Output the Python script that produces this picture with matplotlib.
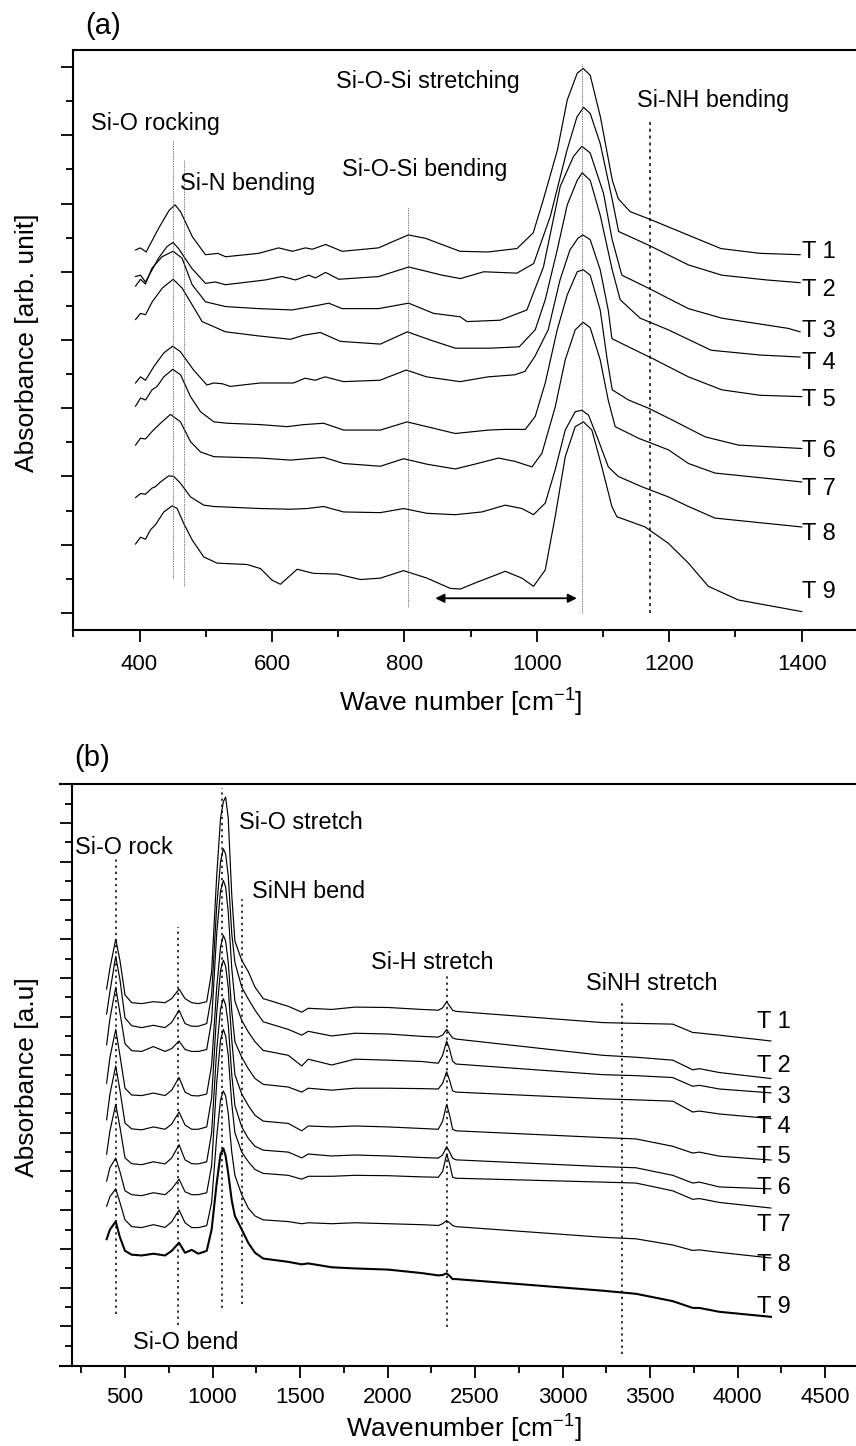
import matplotlib
matplotlib.use("Agg")
import matplotlib.pyplot as plt
from matplotlib.ticker import FixedLocator, MultipleLocator

plt.rcParams['font.family'] = ['Liberation Sans', 'DejaVu Sans']
plt.rcParams['mathtext.fontset'] = 'custom'
plt.rcParams['mathtext.rm'] = 'Liberation Sans'
plt.rcParams['mathtext.default'] = 'regular'

# ---------------- panel (a) : wave number [cm-1] vs absorbance (offset, arb. unit)
a_T1_x = [394, 401.5, 410, 429, 444.7, 453.7, 462, 480, 499.6, 510, 518, 530, 580, 610, 631, 650.5, 661, 681, 706, 761,
          782, 806, 832, 862, 884, 926, 970, 994.5, 1009.6, 1031, 1046, 1061, 1070, 1080.6, 1096, 1114, 1123, 1141, 1168,
          1228, 1278, 1337, 1397.5]
a_T1_y = [5.32, 5.35, 5.29, 5.64, 5.90, 5.98, 5.88, 5.51, 5.25, 5.26, 5.27, 5.22, 5.27, 5.35, 5.30, 5.35, 5.33, 5.40, 5.30,
          5.35, 5.44, 5.54, 5.49, 5.38, 5.30, 5.29, 5.34, 5.57, 6.05, 6.78, 7.52, 7.91, 7.98, 7.88, 7.27, 6.34, 6.07, 5.88,
          5.78, 5.54, 5.34, 5.27, 5.25]
a_T2_x = [394, 401.5, 409, 428.7, 441.6, 450.6, 459, 479, 499.6, 514.7, 529.8, 590, 615.3, 635.4, 655.5, 665.6, 681, 701,
          761.3, 806.6, 857, 884.6, 919.8, 970, 995.2, 1020.3, 1045.5, 1060.6, 1070.6, 1080.6, 1095.7, 1113.4, 1123.5,
          1168.7, 1229, 1279.4, 1347, 1397.5]
a_T2_y = [4.93, 4.95, 4.85, 5.20, 5.37, 5.43, 5.34, 5.05, 4.83, 4.85, 4.81, 4.88, 4.93, 4.88, 4.95, 4.91, 4.99, 4.89, 4.93,
          5.07, 4.95, 4.90, 5.00, 4.98, 5.12, 5.81, 6.78, 7.27, 7.41, 7.32, 6.88, 6.08, 5.59, 5.39, 5.10, 4.95, 4.88, 4.84]
a_T3_x = [394, 401.5, 409, 418.6, 434, 450.6, 464.2, 479.5, 499.6, 529.8, 580, 630.4, 670.6, 685.7, 705.9, 761.1, 806.4,
          844.1, 884.4, 894.5, 944.7, 985, 1010, 1035.3, 1055.4, 1068, 1080.6, 1100.7, 1113.8, 1128.4, 1168.5, 1228.9,
          1279.3, 1379.8, 1397.5]
a_T3_y = [4.79, 4.89, 4.82, 5.05, 5.22, 5.30, 5.20, 4.81, 4.56, 4.49, 4.46, 4.44, 4.51, 4.54, 4.46, 4.46, 4.54, 4.39, 4.34,
          4.27, 4.29, 4.44, 5.07, 6.25, 6.69, 6.84, 6.74, 6.15, 5.47, 4.95, 4.76, 4.46, 4.32, 4.17, 4.12]
a_T4_x = [394, 401.5, 409, 419.2, 434.3, 450.9, 464.4, 494.6, 529.8, 579.6, 627.9, 647.5, 673.1, 703.3, 763.7, 804.4,
          839.1, 876.8, 929.7, 973.4, 997.6, 1012.7, 1030.8, 1045.9, 1061, 1068.5, 1080.6, 1095.7, 1113.8, 1125.9, 1156,
          1198.3, 1263.2, 1337.1, 1397.5]
a_T4_y = [4.30, 4.39, 4.37, 4.56, 4.76, 4.89, 4.76, 4.27, 4.12, 4.06, 4.01, 4.07, 4.11, 3.98, 3.94, 4.12, 4.00, 3.88, 3.88,
          3.90, 4.15, 4.59, 5.32, 5.98, 6.34, 6.45, 6.34, 5.83, 5.03, 4.59, 4.32, 4.15, 3.85, 3.78, 3.75]
a_T5_x = [394, 401.5, 409, 421.6, 436.7, 450, 461.6, 481.7, 501.8, 511.9, 524.5, 537, 582.3, 632.5, 650, 665.2, 680.3, 708,
          763, 803, 833.4, 884, 926.5, 966.8, 982, 997.1, 1017.2, 1035, 1050, 1062, 1069.5, 1080.6, 1095.7, 1107.8, 1113.4,
          1138.4, 1178.6, 1228.9, 1279.3, 1337, 1400]
a_T5_y = [3.37, 3.46, 3.41, 3.61, 3.81, 3.91, 3.83, 3.56, 3.34, 3.37, 3.36, 3.32, 3.37, 3.37, 3.44, 3.41, 3.46, 3.39, 3.41,
          3.56, 3.46, 3.39, 3.46, 3.49, 3.54, 3.76, 4.15, 4.88, 5.32, 5.49, 5.54, 5.47, 5.03, 4.44, 4.02, 3.90, 3.71, 3.46,
          3.27, 3.19, 3.17]
a_T6_x = [394, 401.5, 409, 419, 426.6, 436.6, 450.2, 462, 477, 492, 512.3, 532.4, 582.6, 622.9, 648, 678, 708.3, 763.7, 804,
          834, 876.8, 927, 952.3, 982.5, 997.6, 1012.7, 1030.8, 1045.9, 1061, 1070, 1080.6, 1095.7, 1106.3, 1113.9, 1138.5,
          1168.7, 1204, 1254.3, 1304.5, 1400]
a_T6_y = [3.03, 3.15, 3.12, 3.27, 3.32, 3.46, 3.57, 3.49, 3.17, 2.95, 2.80, 2.78, 2.76, 2.73, 2.76, 2.78, 2.68, 2.68, 2.80,
          2.73, 2.63, 2.68, 2.69, 2.69, 2.88, 3.37, 4.15, 4.66, 5.00, 5.03, 4.95, 4.44, 3.71, 3.27, 3.12, 3.00, 2.83, 2.58,
          2.46, 2.41]
a_T7_x = [394, 401.5, 409, 419, 431.7, 446.8, 461.9, 477, 492, 512.3, 582.6, 627.9, 678, 708.3, 763.7, 799, 834, 876.8, 902,
          942.3, 967.4, 992.6, 1007.7, 1027.8, 1042.9, 1058, 1070, 1080.6, 1095.7, 1107.8, 1118.3, 1153.5, 1198.8, 1229,
          1269, 1400]
a_T7_y = [2.46, 2.56, 2.55, 2.66, 2.78, 2.91, 2.80, 2.51, 2.36, 2.29, 2.27, 2.24, 2.28, 2.19, 2.15, 2.26, 2.18, 2.11, 2.17,
          2.27, 2.22, 2.14, 2.34, 3.02, 3.71, 4.15, 4.26, 4.18, 3.71, 3.12, 2.73, 2.56, 2.39, 2.19, 2.05, 1.92]
a_T8_x = [394, 401.5, 409, 419, 424, 431.7, 444.2, 451.8, 461.9, 477, 497, 512.3, 582.6, 627.9, 653, 678, 708.3, 763.7, 799,
          834, 876.8, 917, 952.3, 977.5, 995, 1012.7, 1027.8, 1042.9, 1058, 1068, 1078, 1093, 1108, 1123, 1158.4, 1198.8,
          1229, 1269, 1400]
a_T8_y = [1.69, 1.75, 1.74, 1.83, 1.85, 1.92, 2.01, 2.00, 1.90, 1.70, 1.58, 1.56, 1.53, 1.52, 1.53, 1.56, 1.48, 1.47, 1.53,
          1.46, 1.44, 1.48, 1.58, 1.53, 1.44, 1.61, 2.10, 2.68, 2.95, 2.97, 2.90, 2.53, 2.14, 2.00, 1.85, 1.70, 1.56, 1.39,
          1.26]
a_T9_x = [394, 401.5, 409, 416.6, 424, 436.7, 449.3, 456.9, 466.8, 479.5, 497, 517.2, 562.5, 582.6, 600.2, 612.8, 625.3,
          638, 663, 698.3, 733.5, 763.7, 798.8, 834.1, 869.3, 884.4, 907, 952.3, 977.5, 995, 1012.7, 1027.7, 1042.9, 1058,
          1070.5, 1083.1, 1098.2, 1113.3, 1120.9, 1163.6, 1198.7, 1228.9, 1259, 1304.3, 1400]
a_T9_y = [1.01, 1.11, 1.08, 1.22, 1.29, 1.48, 1.57, 1.53, 1.31, 1.07, 0.82, 0.73, 0.71, 0.65, 0.48, 0.42, 0.53, 0.64, 0.58,
          0.57, 0.49, 0.51, 0.62, 0.51, 0.36, 0.35, 0.44, 0.61, 0.51, 0.39, 0.63, 1.41, 2.29, 2.73, 2.80, 2.68, 2.14, 1.56,
          1.41, 1.26, 1.02, 0.73, 0.39, 0.19, 0.02]
a_xs = [a_T1_x, a_T2_x, a_T3_x, a_T4_x, a_T5_x, a_T6_x, a_T7_x, a_T8_x, a_T9_x]
a_ys = [a_T1_y, a_T2_y, a_T3_y, a_T4_y, a_T5_y, a_T6_y, a_T7_y, a_T8_y, a_T9_y]

sample_names = ['T 1', 'T 2', 'T 3', 'T 4', 'T 5', 'T 6', 'T 7', 'T 8', 'T 9']
a_name_y = [5.29, 4.73, 4.13, 3.66, 3.12, 2.37, 1.82, 1.16, 0.31]

# band markers (position, from, to)
a_bands = [(450.6, 0.51, 6.93), (466.7, 0.39, 6.64), (805, 0.09, 5.95), (1067.7, 0.0, 8.05)]
a_nh_band = (1170.6, 0.0, 7.20)
a_text = [('Si-O rocking', 326, 7.08), ('Si-N bending', 461, 6.20), ('Si-O-Si stretching', 696, 7.69),
          ('Si-O-Si bending', 706, 6.40), ('Si-NH bending', 1152, 7.42)]

# ---------------- panel (b)
b_x = [395, 414, 447, 471, 500, 538, 595, 662, 729, 767, 809, 843, 881, 919, 967, 995, 1024, 1046, 1062, 1075, 1090,
       1110, 1128, 1167, 1205, 1243, 1290, 1433, 1510, 1547, 1681, 1814, 2004, 2195, 2290, 2315, 2338, 2355, 2372, 2391,
       3230, 3420, 3630, 3744, 3782, 3896, 4191]
b_T1 = [18.42, 19.51, 21.00, 19.91, 18.12, 17.72, 17.67, 17.77, 17.72, 17.93, 18.42, 17.93, 17.72, 17.67, 17.77, 19.31,
        24.27, 27.25, 28.10, 28.34, 27.25, 23.28, 20.90, 19.91, 19.31, 18.52, 17.93, 17.53, 17.23, 17.43, 17.37, 17.49,
        17.47, 17.37, 17.33, 17.45, 17.77, 17.55, 17.33, 17.27, 16.69, 16.65, 16.61, 16.18, 16.15, 16.04, 15.74]
b_T2 = [17.13, 18.30, 20.11, 18.92, 16.93, 16.53, 16.43, 16.55, 16.43, 16.70, 17.33, 16.64, 16.50, 16.50, 16.64, 18.12,
        22.69, 25.00, 25.67, 25.40, 24.27, 21.30, 19.80, 18.52, 17.90, 17.33, 16.73, 16.34, 16.04, 16.24, 16.00, 16.14,
        16.10, 15.98, 15.94, 16.05, 16.34, 16.10, 15.90, 15.84, 15.00, 14.90, 14.75, 14.25, 14.31, 14.11, 13.80]
b_T3 = [15.54, 16.90, 18.52, 17.20, 15.60, 15.24, 15.20, 15.45, 15.20, 15.35, 15.74, 15.30, 15.20, 15.20, 15.30, 16.80,
        21.30, 23.50, 24.03, 23.70, 22.40, 19.50, 17.80, 16.80, 16.20, 15.70, 15.25, 15.00, 14.45, 14.80, 14.50, 14.80,
        14.75, 14.68, 14.59, 15.00, 15.74, 15.30, 14.70, 14.55, 14.00, 13.95, 13.85, 13.40, 13.45, 13.26, 13.06]
b_T4 = [13.56, 14.90, 16.34, 15.00, 13.30, 12.95, 12.92, 13.05, 12.92, 13.20, 13.86, 13.10, 12.92, 12.90, 13.00, 14.50,
        18.50, 20.60, 21.20, 20.90, 19.80, 17.30, 15.70, 14.90, 14.30, 13.80, 13.50, 13.36, 13.10, 13.30, 13.20, 13.30,
        13.30, 13.28, 13.26, 13.55, 14.15, 13.70, 13.16, 13.10, 12.75, 12.70, 12.63, 12.07, 12.12, 11.97, 11.73]
b_T5 = [11.67, 13.00, 14.45, 13.20, 11.50, 11.20, 11.15, 11.30, 11.18, 11.45, 12.07, 11.40, 11.18, 11.18, 11.30, 12.80,
        17.20, 19.40, 19.91, 19.60, 18.50, 15.80, 14.00, 13.00, 12.40, 11.90, 11.60, 11.48, 11.10, 11.35, 11.30, 11.35,
        11.30, 11.22, 11.18, 11.60, 12.47, 11.90, 11.18, 11.10, 10.75, 10.68, 10.30, 9.95, 10.00, 9.79, 9.59]
b_T6 = [9.89, 11.10, 12.47, 11.30, 9.70, 9.40, 9.35, 9.50, 9.39, 9.70, 10.38, 9.60, 9.40, 9.39, 9.50, 11.00,
        15.30, 17.40, 17.93, 17.60, 16.60, 14.00, 12.40, 11.30, 10.70, 10.30, 10.10, 10.00, 9.70, 9.90, 9.80, 9.85,
        9.80, 9.72, 9.69, 9.85, 10.28, 10.00, 9.69, 9.60, 9.25, 9.19, 8.80, 8.40, 8.45, 8.20, 8.10]
b_T7 = [8.50, 9.20, 9.69, 9.00, 8.00, 7.80, 7.75, 7.90, 7.80, 8.10, 8.60, 7.95, 7.80, 7.80, 7.90, 9.30,
        13.60, 15.80, 16.34, 16.00, 15.00, 12.50, 11.00, 10.00, 9.50, 9.10, 8.90, 8.80, 8.60, 8.75, 8.75, 8.80,
        8.78, 8.72, 8.70, 9.00, 9.89, 9.40, 8.70, 8.65, 8.45, 8.40, 8.00, 7.56, 7.60, 7.40, 7.11]
b_T8 = [7.20, 7.70, 8.10, 7.40, 6.50, 6.15, 6.10, 6.25, 6.11, 6.40, 7.01, 6.35, 6.10, 6.10, 6.20, 7.40,
        10.80, 12.70, 13.16, 12.90, 12.00, 10.00, 8.80, 7.80, 7.10, 6.70, 6.50, 6.41, 6.30, 6.35, 6.30, 6.35,
        6.30, 6.25, 6.21, 6.30, 6.46, 6.35, 6.21, 6.15, 5.60, 5.52, 5.20, 4.92, 4.95, 4.82, 4.53]
b_T9 = [5.50, 6.00, 6.41, 5.60, 4.90, 4.70, 4.66, 4.75, 4.66, 4.90, 5.32, 4.80, 4.95, 4.75, 4.90, 6.00,
        8.40, 9.90, 10.19, 9.80, 8.90, 7.50, 6.70, 6.00, 5.30, 4.80, 4.50, 4.33, 4.20, 4.25, 4.05, 3.99,
        3.93, 3.75, 3.63, 3.65, 3.74, 3.60, 3.44, 3.44, 2.84, 2.68, 2.30, 1.95, 1.95, 1.75, 1.49]
b_ys = [b_T1, b_T2, b_T3, b_T4, b_T5, b_T6, b_T7, b_T8, b_T9]
b_name_y = [16.70, 14.45, 12.83, 11.28, 9.76, 8.13, 6.22, 4.16, 1.99]

b_bands = [(447, 1.65, 25.26), (805, 1.06, 21.65), (1052.5, 1.94, 28.82), (1169, 2.15, 23.05),
           (2338, 0.96, 19.22), (3340, -0.43, 17.83)]
b_text = [('Si-O rock', 214, 25.42), ('Si-O stretch', 1151, 26.71), ('SiNH bend', 1226, 23.15),
          ('Si-H stretch', 1906, 19.48), ('SiNH stretch', 3134, 18.35), ('Si-O bend', 548, -0.17)]

W, H = 856, 1446
fig = plt.figure(figsize=(W / 100, H / 100), dpi=100)


def box(l, t, r, b):
    return [l / W, 1 - b / H, (r - l) / W, (b - t) / H]


def style(ax):
    ax.spines['right'].set_visible(False)
    for s in ['left', 'bottom', 'top']:
        ax.spines[s].set_linewidth(1.5)
    ax.tick_params(which='major', direction='out', length=8.5, width=1.3, labelsize=16)
    ax.tick_params(which='minor', direction='out', length=4.8, width=1.3)
    ax.tick_params(axis='y', which='both', labelleft=False)
    ax.tick_params(top=False, right=False)


# ----- (a)
ax1 = fig.add_axes(box(73.3, 50, 856, 630))
for x, y in zip(a_xs, a_ys):
    ax1.plot(x, y, color='k', lw=0.85)
for name, yy in zip(sample_names, a_name_y):
    ax1.text(1401, yy, name, fontsize=17, ha='left', va='center')
for xb, y0, y1 in a_bands:
    ax1.plot([xb, xb], [y0, y1], color='0.3', lw=0.6, ls=(0, (1, 1)))
ax1.plot([a_nh_band[0]] * 2, a_nh_band[1:], color='k', lw=1.1, ls=(0, (2, 2.5)))
for s, xt, yt in a_text:
    ax1.text(xt, yt, s, fontsize=16.8, ha='left', va='baseline')
ax1.annotate('', xy=(846.7, 0.215), xytext=(1060.5, 0.215),
             arrowprops=dict(arrowstyle='<|-|>', color='k', lw=1.3, mutation_scale=13, shrinkA=0, shrinkB=0))
ax1.set_xlim(300, 1482)
ax1.set_ylim(-0.25, 8.25)
ax1.xaxis.set_major_locator(MultipleLocator(200))
ax1.xaxis.set_minor_locator(MultipleLocator(100))
ax1.yaxis.set_major_locator(FixedLocator(range(0, 9)))
ax1.yaxis.set_minor_locator(FixedLocator([i + 0.5 for i in range(8)]))
style(ax1)
ax1.tick_params(axis='x', which='major', pad=8.5)

# ----- (b)
ax2 = fig.add_axes(box(60, 784.3, 856, 1366))
for y in b_ys[:-1]:
    ax2.plot(b_x, y, color='k', lw=0.85)
ax2.plot(b_x, b_ys[-1], color='k', lw=1.5)
for name, yy in zip(sample_names, b_name_y):
    ax2.text(4111, yy, name, fontsize=17, ha='left', va='center')
for xb, y0, y1 in b_bands:
    ax2.plot([xb, xb], [y0, y1], color='k', lw=1.1, ls=(0, (1.5, 2.5)))
for s, xt, yt in b_text:
    ax2.text(xt, yt, s, fontsize=16.8, ha='left', va='baseline')
ax2.set_xlim(128.6, 4677)
ax2.set_ylim(-1.05, 29.0)
ax2.spines['left'].set_position(('data', 200))
ax2.xaxis.set_major_locator(MultipleLocator(500))
ax2.xaxis.set_minor_locator(FixedLocator([250 + 500 * i for i in range(9)]))
ax2.yaxis.set_major_locator(FixedLocator(range(1, 29, 2)))
ax2.yaxis.set_minor_locator(FixedLocator(range(0, 29, 2)))
style(ax2)
ax2.tick_params(axis='x', which='major', pad=6.5)

fig.text(461 / W, 1 - 712 / H, 'Wave number [cm$^{-1}$]', fontsize=19, ha='center', va='baseline')
fig.text(464 / W, 1 - 1438 / H, 'Wavenumber [cm$^{-1}$]', fontsize=19, ha='center', va='baseline')
fig.text(27 / W, 1 - 343 / H, 'Absorbance [arb. unit]', fontsize=19, rotation=90, ha='center', va='center')
fig.text(27 / W, 1 - 1077 / H, 'Absorbance [a.u]', fontsize=19, rotation=90, ha='center', va='center')
fig.text(103 / W, 1 - 26 / H, '(a)', fontsize=21, ha='center', va='center')
fig.text(92 / W, 1 - 758 / H, '(b)', fontsize=21, ha='center', va='center')

fig.savefig('out.png', dpi=100)
